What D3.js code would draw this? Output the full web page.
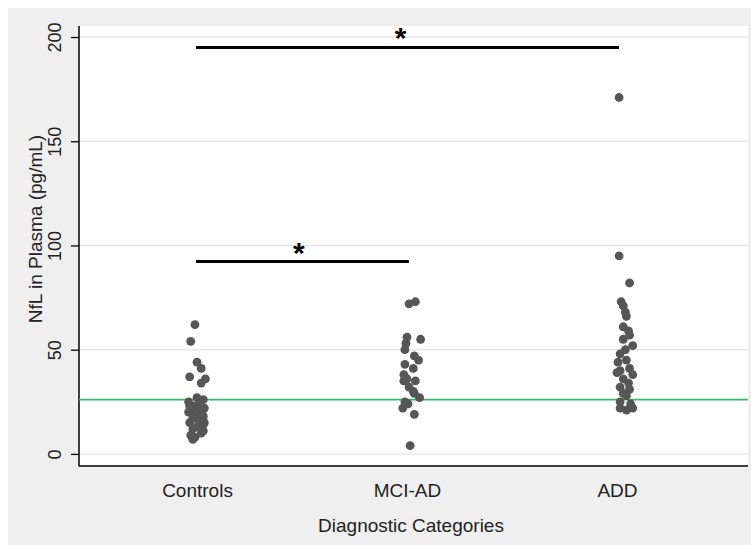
<!DOCTYPE html>
<html>
<head>
<meta charset="utf-8">
<script src="https://cdn.jsdelivr.net/npm/d3@7"></script>
<style>
  body { margin: 0; background: #fff; }
  text { font-family: "Liberation Sans", Arial, sans-serif; }
</style>
</head>
<body>
<div id="chart"></div>
<script>
// categories and tick labels
var categories = ["Controls", "MCI-AD", "ADD"];
var yTicks = [0, 50, 100, 150, 200];

// NfL values per group, and horizontal jitter (in category units)
var controlsVals = [62, 54, 44, 41, 37, 36, 34, 27, 26, 25, 24, 23, 22, 21, 20, 20, 19, 18, 17, 16, 15, 14, 13, 12, 11, 10, 9, 8, 7, 23, 19, 15];
var controlsJit  = [-0.01, -0.03, 0.0, 0.02, -0.035, 0.04, 0.02, 0.0, 0.03, -0.04, 0.01, -0.02, 0.035, -0.01, 0.02, -0.04, 0.0, 0.03, -0.02, 0.01, -0.035, 0.03, 0.0, -0.02, 0.03, 0.02, -0.03, -0.01, -0.02, -0.035, 0.025, 0.035];

var mciVals = [73, 72, 56, 55, 53, 50, 47, 45, 43, 41, 38, 36, 35, 35, 32, 30, 29, 27, 25, 24, 22, 19, 4];
var mciJit  = [0.04, 0.01, 0.0, 0.065, -0.005, -0.01, 0.035, 0.055, -0.01, 0.03, -0.015, 0.0, -0.015, 0.04, 0.01, 0.03, 0.035, 0.06, -0.01, 0.005, -0.02, 0.035, 0.015];

var addVals = [171, 95, 82, 73, 71, 68, 66, 61, 59, 57, 55, 52, 50, 48, 45, 44, 41, 40, 39, 38, 36, 34, 32, 31, 29, 28, 25, 24, 22, 21, 22];
var addJit  = [0.01, 0.01, 0.06, 0.02, 0.03, 0.04, 0.045, 0.03, 0.055, 0.06, 0.03, 0.075, 0.04, 0.015, 0.045, 0.005, 0.06, 0.015, 0.0, 0.075, 0.03, 0.055, 0.015, 0.06, 0.03, 0.045, 0.015, 0.065, 0.015, 0.045, 0.075];

// reference line and significance bars
var refLine = 26;
var sigBars = [
  {from: 1, to: 3, value: 195, star: 1.97},
  {from: 1, to: 2, value: 92.3, star: 1.485}
];

var W = 751, H = 545;
var plot = {left: 79, right: 748, top: 26, bottom: 466};

var svg = d3.select("#chart")
  .append("svg")
  .attr("width", W)
  .attr("height", H);

// outer gray panel
svg.append("rect")
  .attr("x", 8).attr("y", 8)
  .attr("width", W - 8).attr("height", H - 8)
  .attr("fill", "#efefef");

// plot region
svg.append("rect")
  .attr("x", plot.left).attr("y", plot.top)
  .attr("width", plot.right - plot.left)
  .attr("height", plot.bottom - plot.top)
  .attr("fill", "#fff");

var x = d3.scaleLinear()
  .domain([0.438, 3.624])
  .range([plot.left, plot.right]);

var y = d3.scaleLinear()
  .domain([-5.8, 205.3])
  .range([plot.bottom, plot.top]);

// gridlines
svg.append("g")
  .selectAll("line")
  .data(yTicks)
  .join("line")
    .attr("x1", plot.left)
    .attr("x2", plot.right)
    .attr("y1", d => y(d))
    .attr("y2", d => y(d))
    .attr("stroke", "#e8e8e8")
    .attr("stroke-width", 1.5);

// Y axis
var yAxis = svg.append("g")
  .attr("transform", "translate(" + plot.left + ",0)")
  .call(d3.axisLeft(y).tickValues(yTicks).tickSize(8).tickSizeOuter(0));
yAxis.select(".domain").remove();
yAxis.selectAll(".tick line").attr("stroke", "#000").attr("stroke-width", 1.3);
yAxis.selectAll(".tick text")
  .attr("font-size", 18)
  .attr("fill", "#222")
  .attr("x", 0).attr("y", 0)
  .attr("dy", 0)
  .attr("text-anchor", "middle")
  .attr("transform", "translate(-18,0) rotate(-90)");

svg.append("line")
  .attr("x1", plot.left).attr("x2", plot.left)
  .attr("y1", plot.top).attr("y2", plot.bottom)
  .attr("stroke", "#000").attr("stroke-width", 1.5);

// X axis
var xAxis = svg.append("g")
  .attr("transform", "translate(0," + plot.bottom + ")")
  .call(d3.axisBottom(x).tickValues([1, 2, 3]).tickFormat(d => categories[d - 1]).tickSize(0));
xAxis.select(".domain").remove();
xAxis.selectAll(".tick text")
  .attr("font-size", 19)
  .attr("fill", "#222")
  .attr("dy", 0)
  .attr("y", 31);

svg.append("line")
  .attr("x1", plot.left).attr("x2", plot.right)
  .attr("y1", plot.bottom).attr("y2", plot.bottom)
  .attr("stroke", "#000").attr("stroke-width", 1.5);

// axis titles
svg.append("text")
  .attr("x", 411)
  .attr("y", 532)
  .attr("text-anchor", "middle")
  .attr("font-size", 19)
  .attr("fill", "#222")
  .text("Diagnostic Categories");

svg.append("text")
  .attr("transform", "translate(42,229) rotate(-90)")
  .attr("text-anchor", "middle")
  .attr("font-size", 19)
  .attr("fill", "#222")
  .text("NfL in Plasma (pg/mL)");

// reference line
svg.append("line")
  .attr("x1", plot.left).attr("x2", plot.right)
  .attr("y1", y(refLine)).attr("y2", y(refLine))
  .attr("stroke", "#2dbb6a").attr("stroke-width", 1.8);

// points
var groups = [
  {cat: 1, vals: controlsVals, jit: controlsJit},
  {cat: 2, vals: mciVals, jit: mciJit},
  {cat: 3, vals: addVals, jit: addJit}
];
var points = [];
groups.forEach(g => g.vals.forEach((v, i) => points.push({x: g.cat + g.jit[i], y: v})));

svg.append("g")
  .selectAll("circle")
  .data(points)
  .join("circle")
    .attr("cx", d => x(d.x))
    .attr("cy", d => y(d.y))
    .attr("r", 4.4)
    .attr("fill", "#565656");

// significance bars and stars
svg.append("g")
  .selectAll("line")
  .data(sigBars)
  .join("line")
    .attr("x1", d => x(d.from) - 1)
    .attr("x2", d => x(d.to) + 2)
    .attr("y1", d => y(d.value))
    .attr("y2", d => y(d.value))
    .attr("stroke", "#000")
    .attr("stroke-width", 3);

svg.append("g")
  .selectAll("text")
  .data(sigBars)
  .join("text")
    .attr("x", d => x(d.star))
    .attr("y", d => y(d.value) + 1)
    .attr("text-anchor", "middle")
    .attr("font-size", 30)
    .attr("font-weight", "bold")
    .attr("fill", "#000")
    .text("*");
</script>
</body>
</html>
